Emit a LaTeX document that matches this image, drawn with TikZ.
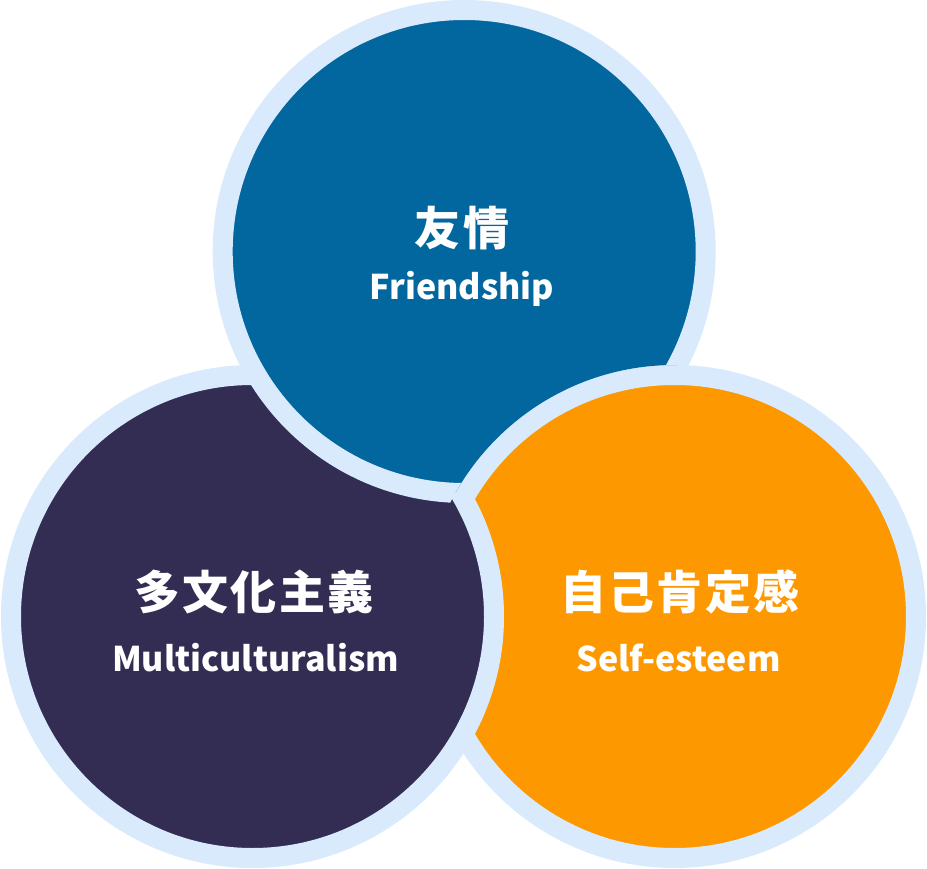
\documentclass[tikz,border=0pt]{standalone}
\usepackage{fontspec}
\newfontfamily\cjk{Noto Sans CJK JP}
\newfontfamily\cjksp{Noto Sans CJK JP}[LetterSpace=5]
\definecolor{ringc}{HTML}{D9EAFC}
\definecolor{bluec}{HTML}{03679F}
\definecolor{darkc}{HTML}{332D54}
\definecolor{orangec}{HTML}{FD9800}
\tikzset{
  disc/.style={fill=#1, draw=ringc, line width=20pt},
  cjklabel/.style={text=white, font=\cjksp\bfseries\fontsize{46}{46}\selectfont, anchor=base, inner sep=0pt},
  latlabel/.style={text=white, font=\cjk\bfseries\fontsize{34}{34}\selectfont, anchor=base, inner sep=0pt}
}
\begin{document}
\begin{tikzpicture}[x=1pt,y=-1pt]
\useasboundingbox (0,0) rectangle (927,869);
\coordinate (T) at (464.2,251.5);
\coordinate (L) at (252.5,616.5);
\coordinate (R) at (674.5,616.5);
\path[disc=orangec] (R) circle (241.5pt);
\path[disc=darkc] (L) circle (241.5pt);
\begin{scope}[even odd rule]
  \clip (-10,-10) rectangle (940,880) (R) circle (251.5pt);
  \path[disc=bluec] (T) circle (241.5pt);
\end{scope}
\node[cjklabel] (tj) at (462,246) {友情};
\node[latlabel] (te) at (462,300) {Friendship};
\node[cjklabel] (lj) at (254,609) {多文化主義};
\node[latlabel] (le) at (255.5,671) {Multiculturalism};
\node[cjklabel] (rj) at (680,609) {自己肯定感};
\node[latlabel] (re) at (678.5,671) {Self-esteem};
\end{tikzpicture}
\end{document}
